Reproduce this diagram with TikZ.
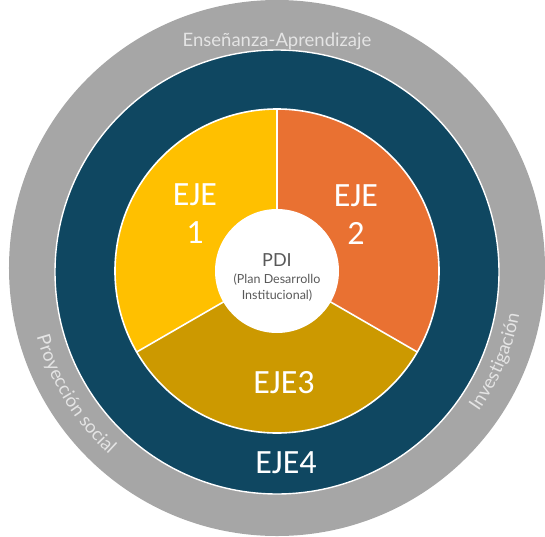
\documentclass[tikz,border=0pt]{standalone}
\usepackage{fontspec}
\setmainfont{Lato}
\newfontfamily\ejefont{Carlito}
\usetikzlibrary{decorations.text}
\definecolor{grayring}{HTML}{A6A6A6}
\definecolor{navy}{HTML}{0F4761}
\definecolor{ejeyellow}{HTML}{FFC000}
\definecolor{ejeorange}{HTML}{E97132}
\definecolor{ejegold}{HTML}{CC9900}
\definecolor{ringtext}{HTML}{E4E4E4}
\definecolor{pditext}{HTML}{595959}
\tikzset{
  ejetext/.style={text=white, font=\ejefont\fontsize{34}{38}\selectfont, align=center, inner sep=0pt},
  pdibox/.style={text=pditext, align=center, inner sep=0pt},
  sep/.style={white, line width=1.6pt},
  ringlabel/.style={decorate, decoration={text along path, text align=center, text color=ringtext}}
}
\begin{document}
\begin{tikzpicture}[x=1pt,y=1pt]
\useasboundingbox (-277,-265) rectangle (268,271);
% outer grey ring
\fill[grayring] (0,3) circle (268);
% navy ring
\draw[white, line width=1.4pt, fill=navy] (0,-1) circle (222);
% pie sectors
\fill[ejeyellow] (0,0) -- (90:162) arc[start angle=90, end angle=210, radius=162] -- cycle;
\fill[ejeorange] (0,0) -- (-30:162) arc[start angle=-30, end angle=90, radius=162] -- cycle;
\fill[ejegold] (0,0) -- (210:162) arc[start angle=210, end angle=330, radius=162] -- cycle;
\draw[sep] (0,0) circle (162);
\draw[sep] (0,0) -- (90:162);
\draw[sep] (0,0) -- (210:162);
\draw[sep] (0,0) -- (330:162);
% centre
\fill[white] (0,0) circle (62);
\node[pdibox, font=\fontsize{18}{20}\selectfont] (pdi) at (0,11) {PDI};
\node[pdibox, font=\fontsize{12.5}{16}\selectfont] (pdisub) at (0,-17) {(Plan Desarrollo\\Institucional)};
% axis labels
\node[ejetext] (e1) at (-82,57) {EJE\\1};
\node[ejetext] (e2) at (79,56) {EJE\\2};
\node[ejetext] (e3) at (7,-112) {EJE3};
\node[ejetext] (e4) at (9,-192) {EJE4};
% ring labels
\node[text=ringtext, inner sep=0pt, anchor=base, font=\fontsize{18.5}{20}\selectfont] (ea) at (0,225) {Enseñanza-Aprendizaje};
\path[ringlabel, decoration={text={|\fontsize{18.5}{20}\selectfont|Proyección social}}]
  (181.4:249) arc[start angle=181.4, end angle=241.4, radius=249];
\path[ringlabel, decoration={text={|\fontsize{18.5}{20}\selectfont|Investigación}}]
  (-52.5:246) arc[start angle=-52.5, end angle=7.5, radius=246];
\end{tikzpicture}
\end{document}
